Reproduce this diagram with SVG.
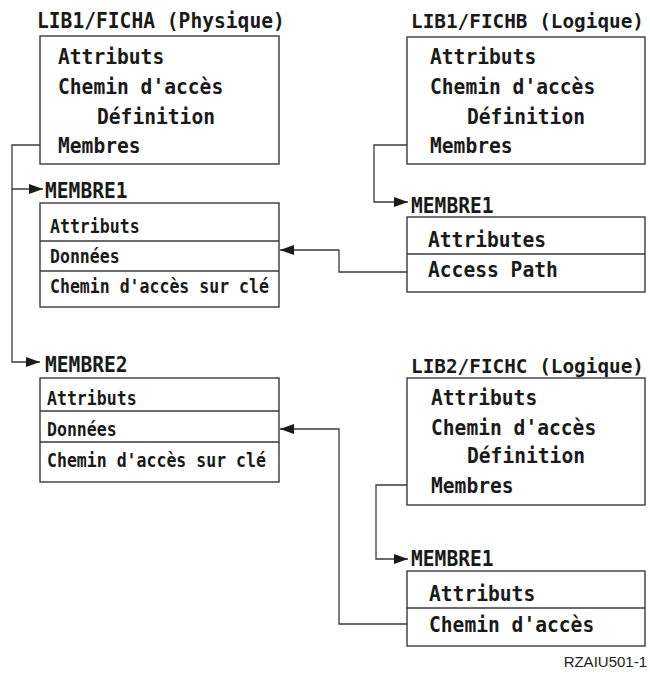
<svg xmlns="http://www.w3.org/2000/svg" width="650" height="687" viewBox="0 0 650 687">
<style>
.box{fill:#fff;stroke:#3a3a3a;stroke-width:1.4}
.div{stroke:#3a3a3a;stroke-width:1.4}
.big{font-family:"DejaVu Sans Mono","Liberation Mono",monospace;font-weight:bold;font-size:20.5px;fill:#1a1a1a}
.title{font-family:"DejaVu Sans Mono","Liberation Mono",monospace;font-weight:bold;font-size:19.4px;fill:#1a1a1a}
.small{font-family:"DejaVu Sans Mono","Liberation Mono",monospace;font-weight:bold;font-size:19.5px;fill:#1a1a1a}
.conn{fill:none;stroke:#3a3a3a;stroke-width:1.3}
.ref{font-family:"Liberation Sans",Arial,sans-serif;font-size:15px;fill:#222}
</style>
<defs>
<marker id="arr" markerUnits="userSpaceOnUse" markerWidth="14" markerHeight="10" refX="14" refY="5" orient="auto">
<path d="M0,0 L14,5 L0,10 z" fill="#1a1a1a"/>
</marker>
</defs>
<g id="connectors">
<path class="conn" d="M40 145 H12 V189 H43" marker-end="url(#arr)"/>
<path class="conn" d="M12 189 V362 H40" marker-end="url(#arr)"/>
<path class="conn" d="M407 145 H374 V202 H408" marker-end="url(#arr)"/>
<path class="conn" d="M407 272 H339 V250 H280" marker-end="url(#arr)"/>
<path class="conn" d="M407 485 H376 V559 H408" marker-end="url(#arr)"/>
<path class="conn" d="M407 624 H339 V429 H280" marker-end="url(#arr)"/>
</g>
<g id="fichA">
<text class="big" x="37" y="28" textLength="247.8" lengthAdjust="spacingAndGlyphs">LIB1/FICHA (Physique)</text>
<rect class="box" x="40" y="36" width="239" height="128"/>
<text class="big" x="58" y="64" textLength="106.2" lengthAdjust="spacingAndGlyphs">Attributs</text>
<text class="big" x="58" y="94" textLength="165.2" lengthAdjust="spacingAndGlyphs">Chemin d'accès</text>
<text class="big" x="97" y="124" textLength="118" lengthAdjust="spacingAndGlyphs">Définition</text>
<text class="big" x="58" y="153" textLength="82.6" lengthAdjust="spacingAndGlyphs">Membres</text>
</g>
<g id="fichB">
<text class="title" x="411" y="28" textLength="233" lengthAdjust="spacingAndGlyphs">LIB1/FICHB (Logique)</text>
<rect class="box" x="407" y="37" width="238" height="127"/>
<text class="big" x="430" y="64" textLength="106.2" lengthAdjust="spacingAndGlyphs">Attributs</text>
<text class="big" x="430" y="94" textLength="165.2" lengthAdjust="spacingAndGlyphs">Chemin d'accès</text>
<text class="big" x="467" y="124" textLength="118" lengthAdjust="spacingAndGlyphs">Définition</text>
<text class="big" x="430" y="153" textLength="82.6" lengthAdjust="spacingAndGlyphs">Membres</text>
</g>
<g id="membre1A">
<text class="big" x="45" y="198" textLength="82.6" lengthAdjust="spacingAndGlyphs">MEMBRE1</text>
<rect class="box" x="40" y="203" width="239" height="104"/>
<line class="div" x1="40" y1="241" x2="279" y2="241"/>
<line class="div" x1="40" y1="271" x2="279" y2="271"/>
<text class="small" x="50" y="233" textLength="89.6" lengthAdjust="spacingAndGlyphs">Attributs</text>
<text class="small" x="50" y="263" textLength="69.7" lengthAdjust="spacingAndGlyphs">Données</text>
<text class="small" x="50" y="293" textLength="218.9" lengthAdjust="spacingAndGlyphs">Chemin d'accès sur clé</text>
</g>
<g id="membre1B">
<text class="big" x="411" y="213" textLength="82.6" lengthAdjust="spacingAndGlyphs">MEMBRE1</text>
<rect class="box" x="407" y="217" width="238" height="75"/>
<line class="div" x1="407" y1="254" x2="645" y2="254"/>
<text class="big" x="428" y="247" textLength="118" lengthAdjust="spacingAndGlyphs">Attributes</text>
<text class="big" x="428" y="277" textLength="129.8" lengthAdjust="spacingAndGlyphs">Access Path</text>
</g>
<g id="membre2A">
<text class="big" x="45" y="372" textLength="82.6" lengthAdjust="spacingAndGlyphs">MEMBRE2</text>
<rect class="box" x="40" y="378" width="239" height="104"/>
<line class="div" x1="40" y1="411" x2="279" y2="411"/>
<line class="div" x1="40" y1="442" x2="279" y2="442"/>
<text class="small" x="47" y="405" textLength="89.6" lengthAdjust="spacingAndGlyphs">Attributs</text>
<text class="small" x="47" y="436" textLength="69.7" lengthAdjust="spacingAndGlyphs">Données</text>
<text class="small" x="47" y="467" textLength="218.9" lengthAdjust="spacingAndGlyphs">Chemin d'accès sur clé</text>
</g>
<g id="fichC">
<text class="title" x="411" y="373" textLength="233" lengthAdjust="spacingAndGlyphs">LIB2/FICHC (Logique)</text>
<rect class="box" x="407" y="378" width="238" height="127"/>
<text class="big" x="431" y="405" textLength="106.2" lengthAdjust="spacingAndGlyphs">Attributs</text>
<text class="big" x="431" y="435" textLength="165.2" lengthAdjust="spacingAndGlyphs">Chemin d'accès</text>
<text class="big" x="467" y="463" textLength="118" lengthAdjust="spacingAndGlyphs">Définition</text>
<text class="big" x="431" y="493" textLength="82.6" lengthAdjust="spacingAndGlyphs">Membres</text>
</g>
<g id="membre1C">
<text class="big" x="411" y="566" textLength="82.6" lengthAdjust="spacingAndGlyphs">MEMBRE1</text>
<rect class="box" x="407" y="571" width="238" height="75"/>
<line class="div" x1="407" y1="608" x2="645" y2="608"/>
<text class="big" x="429" y="601" textLength="106.2" lengthAdjust="spacingAndGlyphs">Attributs</text>
<text class="big" x="429" y="632" textLength="165.2" lengthAdjust="spacingAndGlyphs">Chemin d'accès</text>
</g>
<text class="ref" x="647" y="667" text-anchor="end">RZAIU501-1</text>
</svg>
